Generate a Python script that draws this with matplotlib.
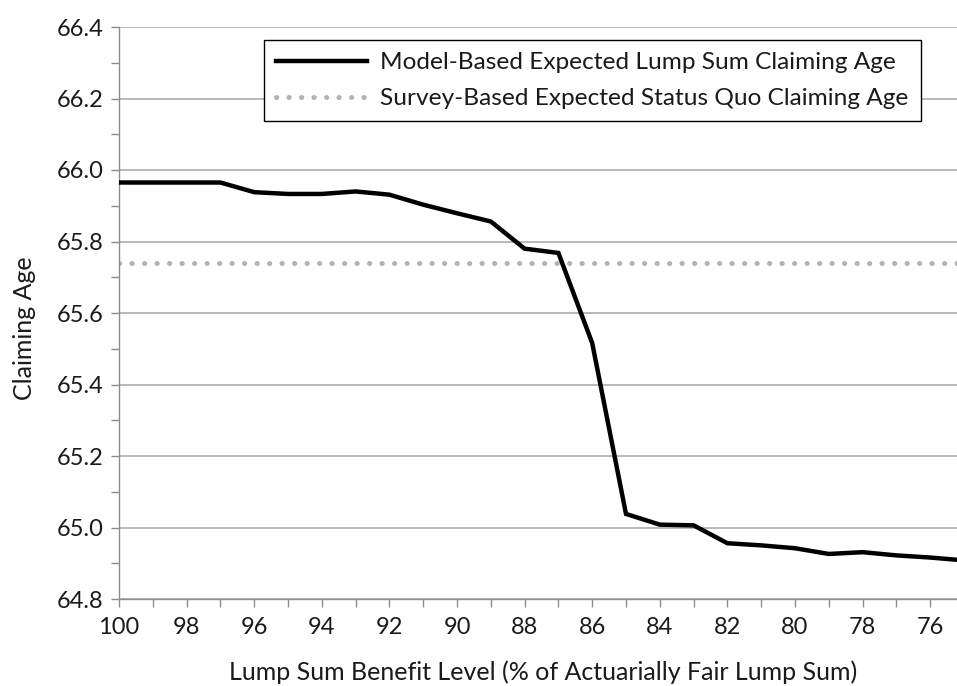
import numpy as np
import matplotlib
matplotlib.use("Agg")
import matplotlib.pyplot as plt
from matplotlib.ticker import MultipleLocator, FormatStrFormatter

plt.rcParams['font.family'] = ['Lato', 'DejaVu Sans']

# data
benefit_level = [100, 99, 98, 97, 96, 95, 94, 93, 92, 91, 90, 89, 88,
                 87, 86, 85, 84, 83, 82, 81, 80, 79, 78, 77, 76, 75]
model_age = [65.965, 65.965, 65.965, 65.965, 65.938, 65.933, 65.933, 65.940,
             65.931, 65.903, 65.879, 65.856, 65.780, 65.768, 65.516, 65.038,
             65.008, 65.006, 64.956, 64.950, 64.942, 64.926, 64.931, 64.922,
             64.916, 64.908]
survey_age = 65.74

model_label = 'Model-Based Expected Lump Sum Claiming Age'
survey_label = 'Survey-Based Expected Status Quo Claiming Age'
xlabel = 'Lump Sum Benefit Level (% of Actuarially Fair Lump Sum)'
ylabel = 'Claiming Age'

fig = plt.figure(figsize=(9.57, 6.86), dpi=100)
ax = fig.add_axes([119/957, 87/686, 845/957, 572/686])

ax.plot(benefit_level, model_age, color='black', linewidth=3.2,
        solid_joinstyle='miter', label=model_label, zorder=3)
ax.axhline(survey_age, color='#b3b3b3', linewidth=3.6,
           linestyle=(0, (0.05, 2.45)), dash_capstyle='round',
           label=survey_label, zorder=2)

ax.set_xlim(100, 75)
ax.set_ylim(64.8, 66.4)
ax.xaxis.set_major_locator(MultipleLocator(2))
ax.xaxis.set_minor_locator(MultipleLocator(1))
ax.yaxis.set_major_locator(MultipleLocator(0.2))
ax.yaxis.set_minor_locator(MultipleLocator(0.1))
ax.yaxis.set_major_formatter(FormatStrFormatter('%.1f'))

ax.grid(True, which='major', axis='y', color='#a6a6a6', linewidth=1.1)
ax.set_axisbelow(True)
for side in ['top', 'right']:
    ax.spines[side].set_visible(False)
for side in ['left', 'bottom']:
    ax.spines[side].set_color('#8c8c8c')
    ax.spines[side].set_linewidth(1.0)

ax.tick_params(which='both', direction='out', length=6, width=1.0,
               color='#8c8c8c', labelsize=17, labelcolor='#1a1a1a')
ax.tick_params(axis='x', pad=7)
ax.tick_params(axis='y', pad=5)

fig.text(543/957, 1 - 672/686, xlabel, ha='center', va='center',
         fontsize=18, color='#1a1a1a')
fig.text(25/957, 1 - 328/686, ylabel, ha='center', va='center',
         rotation=90, fontsize=18, color='#1a1a1a')

leg = ax.legend(loc='upper right', bbox_to_anchor=(0.949, 0.977),
                borderaxespad=0, fancybox=False, framealpha=1,
                edgecolor='black', fontsize=17.6, handlelength=3.7,
                handletextpad=0.55, borderpad=0.5, labelspacing=0.6)
leg.get_frame().set_linewidth(1.0)
for t in leg.get_texts():
    t.set_color('#1a1a1a')

fig.savefig('out.png', dpi=100)
